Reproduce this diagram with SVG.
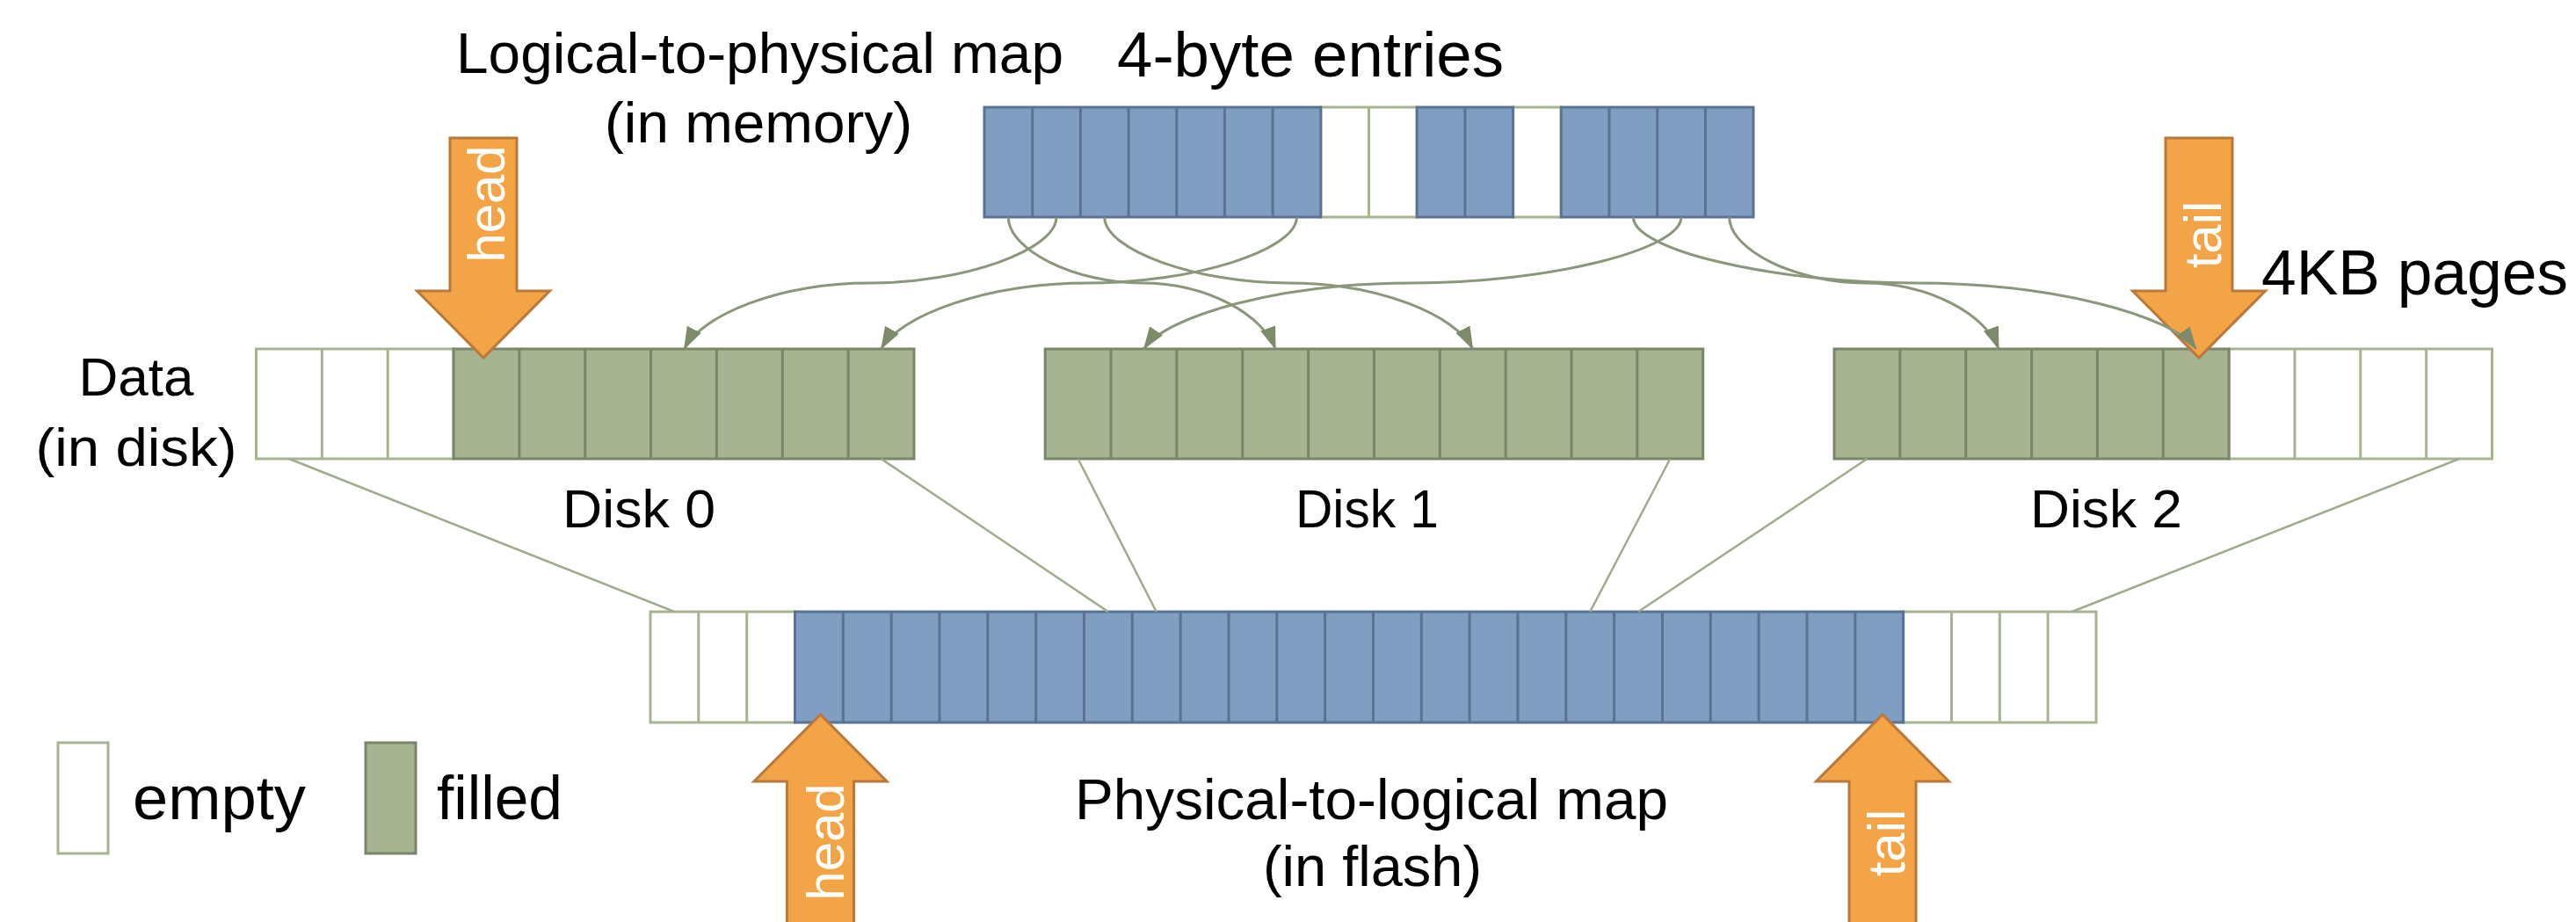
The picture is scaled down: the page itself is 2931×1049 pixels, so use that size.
<svg xmlns="http://www.w3.org/2000/svg" width="2931" height="1049" viewBox="0 0 2931 1049">
<defs>
<style>
.txt{font-family:"Liberation Sans",Arial,sans-serif;fill:#000}
.lbl{font-size:64px}
.big{font-size:72px}
.disk{font-size:62px}
.arrtxt{font-family:"Liberation Sans",Arial,sans-serif;font-size:60px;fill:#fff;text-anchor:middle}
.blue{fill:#7f9ec1;stroke:#5b7292;stroke-width:3}
.green{fill:#a6b491;stroke:#78866a;stroke-width:3}
.empty{fill:#fff;stroke:#a6b491;stroke-width:3}
.divb{stroke:#5b7292;stroke-width:3;fill:none}
.divg{stroke:#78866a;stroke-width:3;fill:none}
.dive{stroke:#a6b491;stroke-width:3;fill:none}
.orange{fill:#f2a447;stroke:#b8793a;stroke-width:3}
.funnel{stroke:#9eac8b;stroke-width:2.5;fill:none}
.curve{stroke:#8a977a;stroke-width:3;fill:none;marker-end:url(#ah)}
</style>
<marker id="ah" markerUnits="userSpaceOnUse" markerWidth="26" markerHeight="20" refX="25" refY="9" orient="auto" viewBox="0 0 26 18">
<path d="M0,0 L26,9 L0,18 z" fill="#7d8b6a"/>
</marker>
</defs>
<rect x="0" y="0" width="2931" height="1049" fill="#fff"/>

<!-- Logical-to-physical map -->
<g id="l2p-map">
<rect class="empty" x="1502.8" y="122" width="109.4" height="125"/>
<path class="dive" d="M1557.5,122V247"/>
<rect class="empty" x="1721.6" y="122" width="54.7" height="125"/>
<rect class="blue" x="1120" y="122" width="382.8" height="125"/>
<path class="divb" d="M1174.7,122V247M1229.4,122V247M1284.1,122V247M1338.8,122V247M1393.4,122V247M1448.1,122V247"/>
<rect class="blue" x="1612.2" y="122" width="109.4" height="125"/>
<path class="divb" d="M1666.9,122V247"/>
<rect class="blue" x="1776.3" y="122" width="218.7" height="125"/>
<path class="divb" d="M1831,122V247M1885.7,122V247M1940.4,122V247"/>
</g>
<g id="l2p-label">
<text class="txt lbl" x="519" y="83" textLength="691" lengthAdjust="spacingAndGlyphs">Logical-to-physical map</text>
<text class="txt lbl" x="688" y="162" textLength="350" lengthAdjust="spacingAndGlyphs">(in memory)</text>
<text class="txt big" x="1271" y="87" textLength="440" lengthAdjust="spacingAndGlyphs">4-byte entries</text>
</g>

<!-- Data disks -->
<g id="data-label">
<text class="txt disk" x="155" y="450" text-anchor="middle">Data</text>
<text class="txt disk" x="155" y="530" text-anchor="middle" textLength="229" lengthAdjust="spacingAndGlyphs">(in disk)</text>
</g>
<g id="pages-label">
<text class="txt big" x="2573" y="335" textLength="349" lengthAdjust="spacingAndGlyphs">4KB pages</text>
</g>
<g id="disk0">
<rect class="empty" x="291.5" y="397" width="224.55" height="125"/>
<path class="dive" d="M366.35,397V522M441.2,397V522"/>
<rect class="green" x="516.05" y="397" width="523.95" height="125"/>
<path class="divg" d="M590.9,397V522M665.75,397V522M740.6,397V522M815.45,397V522M890.3,397V522M965.15,397V522"/>
<text class="txt disk" x="640" y="600" textLength="174" lengthAdjust="spacingAndGlyphs">Disk 0</text>
</g>
<g id="disk1">
<rect class="green" x="1189.2" y="397" width="748.5" height="125"/>
<path class="divg" d="M1264.05,397V522M1338.9,397V522M1413.75,397V522M1488.6,397V522M1563.45,397V522M1638.3,397V522M1713.15,397V522M1788,397V522M1862.85,397V522"/>
<text class="txt disk" x="1474" y="600" textLength="163" lengthAdjust="spacingAndGlyphs">Disk 1</text>
</g>
<g id="disk2">
<rect class="empty" x="2536.1" y="397" width="299.4" height="125"/>
<path class="dive" d="M2610.95,397V522M2685.8,397V522M2760.65,397V522"/>
<rect class="green" x="2087" y="397" width="449.1" height="125"/>
<path class="divg" d="M2161.85,397V522M2236.7,397V522M2311.55,397V522M2386.4,397V522M2461.25,397V522"/>
<text class="txt disk" x="2310" y="600" textLength="173" lengthAdjust="spacingAndGlyphs">Disk 2</text>
</g>

<!-- Physical-to-logical map -->
<g id="p2l-map">
<rect class="empty" x="740" y="696" width="164.5" height="126"/>
<path class="dive" d="M794.8,696V822M849.7,696V822"/>
<rect class="empty" x="2165.6" y="696" width="219.4" height="126"/>
<path class="dive" d="M2220.5,696V822M2275.3,696V822M2330.1,696V822"/>
<rect class="blue" x="904.5" y="696" width="1261.1" height="126"/>
<path class="divb" d="M959.3,696V822M1014.2,696V822M1069,696V822M1123.8,696V822M1178.7,696V822M1233.5,696V822M1288.3,696V822M1343.2,696V822M1398,696V822M1452.8,696V822M1507.6,696V822M1562.5,696V822M1617.3,696V822M1672.1,696V822M1727,696V822M1781.8,696V822M1836.6,696V822M1891.5,696V822M1946.3,696V822M2001.1,696V822M2056,696V822M2110.8,696V822"/>
</g>
<g id="p2l-label">
<text class="txt lbl" x="1223" y="932" textLength="675" lengthAdjust="spacingAndGlyphs">Physical-to-logical map</text>
<text class="txt lbl" x="1437" y="1008" textLength="249" lengthAdjust="spacingAndGlyphs">(in flash)</text>
</g>

<!-- Legend -->
<g id="legend">
<rect class="empty" x="66" y="845" width="57" height="126"/>
<text class="txt" style="font-size:71px" x="151" y="932" textLength="197" lengthAdjust="spacingAndGlyphs">empty</text>
<rect class="green" x="416" y="845" width="57" height="126"/>
<text class="txt" style="font-size:71px" x="497" y="932" textLength="143" lengthAdjust="spacingAndGlyphs">filled</text>
</g>

<!-- Orange pointers -->
<g id="head-top">
<polygon class="orange" points="512,157 588,157 588,331 625.5,331 550,407 474.5,331 512,331"/>
<text class="arrtxt" transform="translate(574,232) rotate(-90)">head</text>
</g>
<g id="tail-top">
<polygon class="orange" points="2464,157 2540,157 2540,331 2577.5,331 2502,407 2426.5,331 2464,331"/>
<text class="arrtxt" transform="translate(2527,267) rotate(-90)">tail</text>
</g>
<g id="head-bottom">
<polygon class="orange" points="895.5,1062 895.5,889 858,889 933.5,813 1009,889 971.5,889 971.5,1062"/>
<text class="arrtxt" transform="translate(960,958) rotate(-90)">head</text>
</g>
<g id="tail-bottom">
<polygon class="orange" points="2104,1062 2104,889 2066.5,889 2142,813 2217.5,889 2180,889 2180,1062"/>
<text class="arrtxt" transform="translate(2167,959) rotate(-90)">tail</text>
</g>

<!-- Connectors -->
<g id="connectors">
<path class="funnel" d="M329,522L767.4,696"/>
<path class="funnel" d="M1002.6,522L1260.9,696"/>
<path class="funnel" d="M1226.6,522L1315.7,696"/>
<path class="funnel" d="M1900.3,522L1809.2,696"/>
<path class="funnel" d="M2124.4,522L1864,696"/>
<path class="funnel" d="M2798.1,522L2357.5,696"/>
<path class="curve" d="M1147.3,247C1147.3,284.5 1223.3,322 1299.3,322C1375.2,322 1437.5,359.5 1451.2,397"/>
<path class="curve" d="M1202,247C1202,284.5 1096.1,322 990.2,322C884.4,322 797.6,359.5 778.5,397"/>
<path class="curve" d="M1256.7,247C1256.7,284.5 1361.5,322 1466.2,322C1571,322 1656.8,359.5 1675.7,397"/>
<path class="curve" d="M1475.5,247C1475.5,284.5 1357.3,322 1239,322C1120.8,322 1023.9,359.5 1002.6,397"/>
<path class="curve" d="M1858.3,247C1858.3,284.5 2018.4,322 2178.5,322C2338.6,322 2471.9,359.5 2498.7,397"/>
<path class="curve" d="M1913,247C1913,284.5 1760.1,322 1607.3,322C1454.4,322 1327,359.5 1301.5,397"/>
<path class="curve" d="M1967.7,247C1967.7,284.5 2044.3,322 2120.9,322C2197.5,322 2260.3,359.5 2274.1,397"/>
</g>
</svg>
